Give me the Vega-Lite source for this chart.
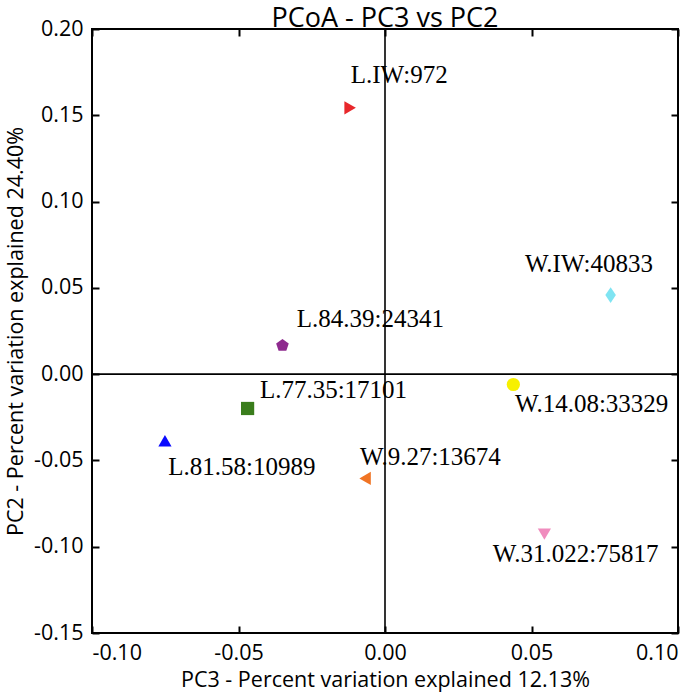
{
  "$schema": "https://vega.github.io/schema/vega-lite/v6.json",
  "width": 586,
  "height": 604,
  "autosize": {"type": "none"},
  "padding": {"left": 92, "top": 29, "right": 22, "bottom": 62},
  "background": "white",
  "title": {"text": "PCoA - PC3 vs PC2", "font": "Open Sans", "fontSize": 27, "fontWeight": "normal", "anchor": "middle", "baseline": "alphabetic", "offset": -36, "color": "black"},
  "config": {
    "view": {"stroke": "black", "strokeWidth": 2},
    "axis": {
      "domain": false, "grid": false, "ticks": true, "tickSize": -7, "tickWidth": 2, "tickColor": "black",
      "labelFont": "Open Sans", "labelFontSize": 21.5, "labelColor": "black", "labelPadding": 16,
      "titleFont": "Open Sans", "titleFontSize": 21.5, "titleFontWeight": "normal", "titleColor": "black"
    }
  },
  "datasets": {
    "pts": [
      {"sample": "L.IW:972", "pc3": -0.0119, "pc2": 0.1543, "lx": -0.0117, "ly": 0.1688},
      {"sample": "W.IW:40833", "pc3": 0.0770, "pc2": 0.0458, "lx": 0.0478, "ly": 0.0593},
      {"sample": "L.84.39:24341", "pc3": -0.0350, "pc2": 0.0166, "lx": -0.0301, "ly": 0.0274},
      {"sample": "L.77.35:17101", "pc3": -0.0469, "pc2": -0.0199, "lx": -0.0427, "ly": -0.0141},
      {"sample": "L.81.58:10989", "pc3": -0.0751, "pc2": -0.0386, "lx": -0.0740, "ly": -0.0585},
      {"sample": "W.9.27:13674", "pc3": -0.0068, "pc2": -0.0604, "lx": -0.0085, "ly": -0.0527},
      {"sample": "W.14.08:33329", "pc3": 0.0438, "pc2": -0.0060, "lx": 0.0444, "ly": -0.0218},
      {"sample": "W.31.022:75817", "pc3": 0.0544, "pc2": -0.0927, "lx": 0.0368, "ly": -0.1088}
    ],
    "zero": [{"v": 0}]
  },
  "layer": [
    {
      "data": {"name": "zero"},
      "mark": {"type": "rule", "color": "black", "strokeWidth": 1.6},
      "encoding": {
        "x": {"field": "v", "type": "quantitative", "scale": {"domain": [-0.1, 0.1], "nice": false, "zero": false},
              "axis": {"orient": "top", "values": [-0.1, -0.05, 0, 0.05, 0.1], "labels": false, "title": null}}
      }
    },
    {
      "data": {"name": "zero"},
      "mark": {"type": "rule", "color": "black", "strokeWidth": 1.6},
      "encoding": {
        "y": {"field": "v", "type": "quantitative", "scale": {"domain": [-0.15, 0.2], "nice": false, "zero": false},
              "axis": {"orient": "right", "values": [-0.15, -0.1, -0.05, 0, 0.05, 0.1, 0.15, 0.2], "labels": false, "title": null}}
      }
    },
    {
      "data": {"name": "pts"},
      "mark": {"type": "point", "filled": true, "opacity": 1, "size": 175},
      "encoding": {
        "x": {"field": "pc3", "type": "quantitative", "scale": {"domain": [-0.1, 0.1], "nice": false, "zero": false},
              "axis": {"orient": "bottom", "values": [-0.1, -0.05, 0, 0.05, 0.1], "labelExpr": "replace(format(datum.value, '.2f'), '\u2212', '-')",
                       "title": "PC3 - Percent variation explained 12.13%", "titlePadding": 6}},
        "y": {"field": "pc2", "type": "quantitative", "scale": {"domain": [-0.15, 0.2], "nice": false, "zero": false},
              "axis": {"orient": "left", "values": [-0.15, -0.1, -0.05, 0, 0.05, 0.1, 0.15, 0.2], "labelExpr": "replace(format(datum.value, '.2f'), '\u2212', '-')",
                       "title": "PC2 - Percent variation explained 24.40%", "titlePadding": 6}},
        "color": {"field": "sample", "type": "nominal", "legend": null,
                  "scale": {"domain": ["L.IW:972", "W.IW:40833", "L.84.39:24341", "L.77.35:17101", "L.81.58:10989", "W.9.27:13674", "W.14.08:33329", "W.31.022:75817"],
                            "range": ["#e8272b", "#7fe4f2", "#8e2a8e", "#3a7d1c", "#0a0aff", "#f07424", "#f7f000", "#f08cbe"]}},
        "shape": {"field": "sample", "type": "nominal", "legend": null,
                  "scale": {"domain": ["L.IW:972", "W.IW:40833", "L.84.39:24341", "L.77.35:17101", "L.81.58:10989", "W.9.27:13674", "W.14.08:33329", "W.31.022:75817"],
                            "range": ["triangle-right", "M0,-1.2L0.8,0L0,1.2L-0.8,0Z", "M0,-1L0.951,-0.309L0.588,0.809L-0.588,0.809L-0.951,-0.309Z", "square", "triangle-up", "triangle-left", "circle", "triangle-down"]}}
      }
    },
    {
      "data": {"name": "pts"},
      "mark": {"type": "text", "font": "Liberation Serif", "fontSize": 25, "align": "left", "baseline": "alphabetic", "color": "black"},
      "encoding": {
        "x": {"field": "lx", "type": "quantitative", "scale": {"domain": [-0.1, 0.1], "nice": false, "zero": false}, "axis": null},
        "y": {"field": "ly", "type": "quantitative", "scale": {"domain": [-0.15, 0.2], "nice": false, "zero": false}, "axis": null},
        "text": {"field": "sample", "type": "nominal"}
      }
    }
  ],
  "resolve": {"axis": {"x": "independent", "y": "independent"}}
}
